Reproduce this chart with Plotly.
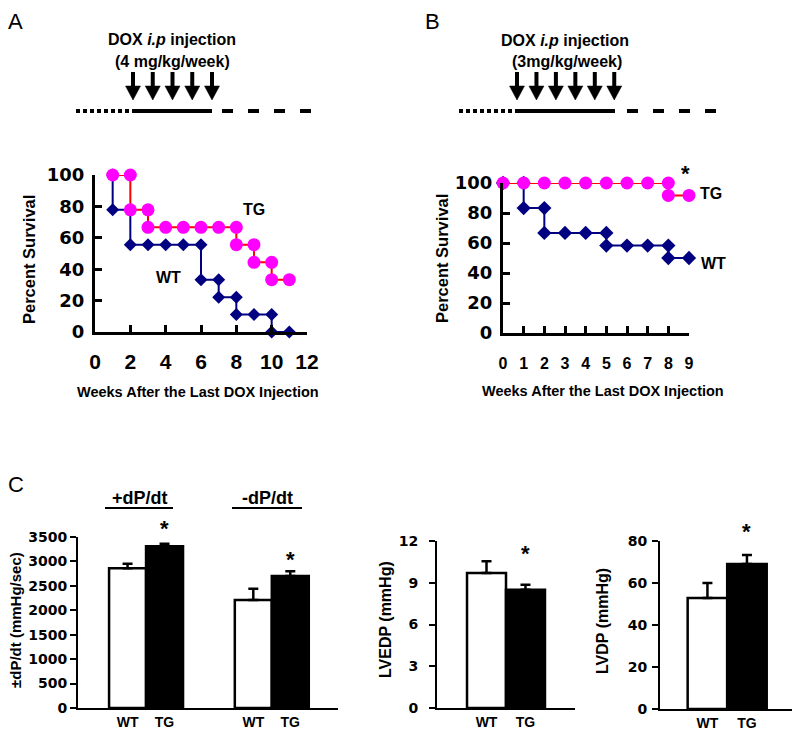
import plotly.graph_objects as go

W, H = 784, 724          # plot size; the page adds an 8px body margin
PAD = 8
FONT = "Liberation Sans, Arial, sans-serif"
WIDE = "DejaVu Sans, Liberation Sans, sans-serif"   # the y tick numbers are set wider
NAVY = "#000080"
PINK = "#FF00FF"
RED = "#FF0000"

# ---- panel A: survival after 4 mg/kg/week DOX ----
a_weeks = [1, 2, 3, 4, 5, 6, 7, 8, 9, 10, 11]
a_wt = [77.8, 55.6, 55.6, 55.6, 55.6, 33.3, 22.2, 11.1, 11.1, 0, 0]
a_tg = [100, 77.8, 66.7, 66.7, 66.7, 66.7, 66.7, 55.6, 44.4, 33.3, 33.3]
a_injections = 5

# ---- panel B: survival after 3 mg/kg/week DOX ----
b_weeks = [0, 1, 2, 3, 4, 5, 6, 7, 8, 9]
b_wt = [100, 83.3, 66.7, 66.7, 66.7, 58.3, 58.3, 58.3, 50, 50]
b_tg = [100, 100, 100, 100, 100, 100, 100, 100, 91.7, 91.7]
b_injections = 6

# ---- panel C: hemodynamics ----
groups = ["WT", "TG"]
dpdt_pos = [2860, 3310]
dpdt_pos_err = [90, 50]
dpdt_neg = [2210, 2700]
dpdt_neg_err = [230, 100]
lvedp = [9.7, 8.5]
lvedp_err = [0.85, 0.35]
lvdp = [52.9, 69.0]
lvdp_err = [7.1, 4.3]


def px(x):
    return min(max((x - PAD) / W, 0), 1)


def py(y):
    return min(max(1 - (y - PAD) / H, 0), 1)


def staircase(weeks, surv, start=100):
    # a point before and after every drop, like the Prism survival plot
    xs, ys = [], []
    prev = start
    for w, s in zip(weeks, surv):
        if s != prev:
            xs.append(w)
            ys.append(prev)
        xs.append(w)
        ys.append(s)
        prev = s
    return xs, ys


fig = go.Figure()


def add_km(xa, ya, weeks, wt, tg, dsize, csize):
    x, y = staircase(weeks, wt)
    fig.add_trace(go.Scatter(
        x=x, y=y, xaxis=xa, yaxis=ya, mode="lines+markers",
        line=dict(color=NAVY, width=2),
        marker=dict(symbol="diamond", size=dsize, color=NAVY),
        cliponaxis=False, showlegend=False, name="WT",
    ))
    x, y = staircase(weeks, tg)
    fig.add_trace(go.Scatter(
        x=x, y=y, xaxis=xa, yaxis=ya, mode="lines+markers",
        line=dict(color=RED, width=2),
        marker=dict(symbol="circle", size=csize, color=PINK),
        cliponaxis=False, showlegend=False, name="TG",
    ))


add_km("x", "y", a_weeks, a_wt, a_tg, 10, 13)
add_km("x2", "y2", b_weeks, b_wt, b_tg, 11, 13)


def add_bars(xa, ya, pos_wt, pos_tg, wt_vals, wt_err, tg_vals, tg_err):
    err = dict(type="data", symmetric=False, color="black", thickness=2.5, width=5)
    fig.add_trace(go.Bar(
        x=pos_wt, y=wt_vals, xaxis=xa, yaxis=ya, width=1,
        marker=dict(color="white", line=dict(color="black", width=2.5)),
        error_y=dict(err, array=wt_err, arrayminus=[0] * len(wt_err)),
        showlegend=False, name="WT",
    ))
    fig.add_trace(go.Bar(
        x=pos_tg, y=tg_vals, xaxis=xa, yaxis=ya, width=1,
        marker=dict(color="black", line=dict(color="black", width=2.5)),
        error_y=dict(err, array=tg_err, arrayminus=[0] * len(tg_err)),
        showlegend=False, name="TG",
    ))


# bar slots on each x axis
c1_wt, c1_tg = [0, 3.4], [1, 4.4]
add_bars("x3", "y3", c1_wt, c1_tg,
         [dpdt_pos[0], dpdt_neg[0]], [dpdt_pos_err[0], dpdt_neg_err[0]],
         [dpdt_pos[1], dpdt_neg[1]], [dpdt_pos_err[1], dpdt_neg_err[1]])
add_bars("x4", "y4", [0], [1], [lvedp[0]], [lvedp_err[0]], [lvedp[1]], [lvedp_err[1]])
add_bars("x5", "y5", [0], [1], [lvdp[0]], [lvdp_err[0]], [lvdp[1]], [lvdp_err[1]])

base = dict(showline=True, linecolor="black", showgrid=False, zeroline=False,
            automargin=False, fixedrange=True)


def bfont(size, family=FONT):
    return dict(family=family, size=size, color="black", weight="bold")


km_x = dict(base, ticks="inside", ticklen=7, tickwidth=3, tickcolor="black", linewidth=3)
km_y = dict(base, ticks="inside", ticklen=7, tickwidth=3, tickcolor="black", linewidth=3,
            range=[0, 100], dtick=20, tickfont=bfont(18, WIDE), ticklabelstandoff=4)
bar_x = dict(base, ticks="", linewidth=2, tickfont=bfont(14), ticklabelstandoff=0)
bar_y = dict(base, ticks="outside", ticklen=6, tickwidth=2, tickcolor="black", linewidth=2,
             tickfont=bfont(14, WIDE))

fig.update_layout(
    width=W, height=H,
    margin=dict(l=0, r=0, t=0, b=0),
    paper_bgcolor="white", plot_bgcolor="white",
    font=dict(family=FONT, color="black"),
    barmode="overlay",
    showlegend=False,
    xaxis=dict(km_x, domain=[px(95), px(307)], range=[0, 12], dtick=2, anchor="y",
               tickfont=bfont(21), ticklabelstandoff=9),
    yaxis=dict(km_y, domain=[py(332), py(175)], anchor="x"),
    xaxis2=dict(km_x, domain=[px(503), px(689)], range=[0, 9], dtick=1, anchor="y2",
                tickfont=bfont(16), ticklabelstandoff=14),
    yaxis2=dict(km_y, domain=[py(333), py(183)], anchor="x2"),
    xaxis3=dict(bar_x, domain=[px(78), px(338)], range=[-1.34, 5.69], anchor="y3",
                tickvals=c1_wt[:1] + c1_tg[:1] + c1_wt[1:] + c1_tg[1:],
                ticktext=groups + groups),
    yaxis3=dict(bar_y, domain=[py(708), py(537)], range=[0, 3500], dtick=500, anchor="x3"),
    xaxis4=dict(bar_x, domain=[px(437), px(575)], range=[-1.27, 2.27], anchor="y4",
                tickvals=[0, 1], ticktext=groups),
    yaxis4=dict(bar_y, domain=[py(708), py(541)], range=[0, 12], dtick=3, anchor="x4",
                ticklabelstandoff=8),
    # right edge of the page: axis stops at the plot edge
    xaxis5=dict(bar_x, domain=[px(660), px(792)], range=[-1.2, 2.14], anchor="y5",
                tickvals=[0, 1], ticktext=groups),
    yaxis5=dict(bar_y, domain=[py(709), py(541)], range=[0, 80], dtick=20, anchor="x5",
                ticklabelstandoff=2),
)

ann = []


def text(t, x, y, size, bold=True, angle=0, xref="paper", yref="paper", yshift=0):
    ann.append(dict(
        text=f"<b>{t}</b>" if bold else t,
        x=x, y=y, xref=xref, yref=yref, xanchor="center", yanchor="middle",
        showarrow=False, textangle=angle, yshift=yshift,
        font=dict(family=FONT, size=size, color="black"),
    ))


# panel letters
text("A", px(16), py(21), 22, bold=False)
text("B", px(432), py(21), 22, bold=False)
text("C", px(16), py(484), 22, bold=False)

# dosing schedule headers
text("DOX <i>i.p</i> injection", px(172), py(39), 16)
text("(4 mg/kg/week)", px(172), py(62), 16)
text("DOX <i>i.p</i> injection", px(565), py(40), 16)
text("(3mg/kg/week)", px(567), py(62), 16)

# survival axis titles and curve labels
text("Percent Survival", px(29), py(260), 16.5, angle=-90)
text("Weeks After the Last DOX Injection", px(198), py(392), 14.5)
text("Percent Survival", px(442), py(259), 16.5, angle=-90)
text("Weeks After the Last DOX Injection", px(603), py(391), 14.5)
text("TG", 9.0, 78, 16, xref="x", yref="y")
text("WT", 4.15, 35, 16, xref="x", yref="y")
text("TG", px(711), py(194), 16)
text("WT", px(713), py(263), 16)

# significance marks, lifted off the end of the survival curve / error bars
text("*", 8.85, b_tg[-1], 22, xref="x2", yref="y2", yshift=22)
text("*", c1_tg[0], dpdt_pos[1] + dpdt_pos_err[1], 22, xref="x3", yref="y3", yshift=15)
text("*", c1_tg[1], dpdt_neg[1] + dpdt_neg_err[1], 22, xref="x3", yref="y3", yshift=12)
text("*", 1, lvedp[1] + lvedp_err[1], 22, xref="x4", yref="y4", yshift=31)
text("*", 1, lvdp[1] + lvdp_err[1], 22, xref="x5", yref="y5", yshift=24)

# hemodynamics titles
text("±dP/dt (mmHg/sec)", px(15), py(620), 15, angle=-90)
text("LVEDP (mmHg)", px(385), py(620), 16, angle=-90)
text("LVDP (mmHg)", px(602), py(621), 16, angle=-90)
text("+dP/dt", px(140), py(498), 18)
text("-dP/dt", px(267), py(498), 18)

shapes = []


def seg(x0, x1, y, width, dash="solid"):
    shapes.append(dict(type="line", xref="paper", yref="paper",
                       x0=px(x0), x1=px(x1), y0=py(y), y1=py(y),
                       line=dict(color="black", width=width, dash=dash)))


def arrow(cx):
    shapes.append(dict(type="line", xref="paper", yref="paper",
                       x0=px(cx), x1=px(cx), y0=py(72), y1=py(88),
                       line=dict(color="black", width=4)))
    shapes.append(dict(type="path", xref="paper", yref="paper",
                       path=f"M {px(cx - 7.5)} {py(86)} L {px(cx + 7.5)} {py(86)} "
                            f"L {px(cx)} {py(100)} Z",
                       fillcolor="black", line=dict(color="black", width=0.5)))


# panel A schedule: pre-treatment, injection weeks, follow-up
for i in range(a_injections):
    arrow(133 + i * 19.75)
seg(76, 131, 111, 4, "4px,3px")
seg(132, 212, 111, 4)
seg(222, 312, 111, 4, "11px,15px")

# panel B schedule
for i in range(b_injections):
    arrow(517 + i * 19.45)
seg(459, 514, 111, 4, "4px,3px")
seg(515, 615, 111, 4)
seg(627, 716, 111, 4, "11px,15px")

# underlines for the dP/dt group titles
seg(105, 173, 508, 2)
seg(232, 302, 508, 2)

fig.update_layout(annotations=ann, shapes=shapes)
fig.write_html("out.html")
